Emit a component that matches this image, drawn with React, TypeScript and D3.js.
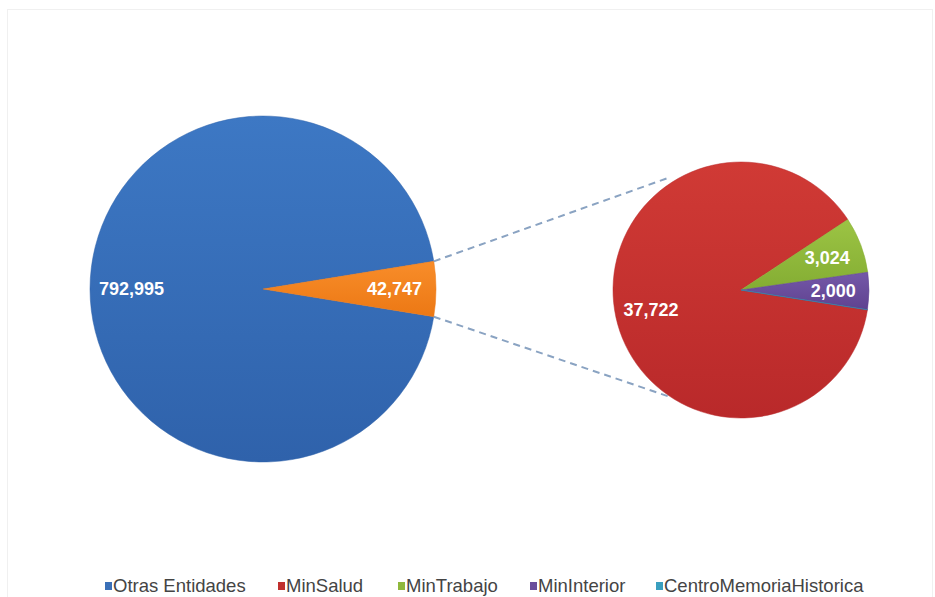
import React from "react";
import * as d3 from "d3";

const mainCategories = ["Otras Entidades", "Otros"];
const mainValues = [792995, 42747];
const subCategories = ["MinSalud", "MinTrabajo", "MinInterior", "CentroMemoriaHistorica"];
const subValues = [37722, 3024, 2000, 1];
const subLabels = ["37,722", "3,024", "2,000", ""];
const mainLabels = ["792,995", "42,747"];
const legendNames = ["Otras Entidades", "MinSalud", "MinTrabajo", "MinInterior", "CentroMemoriaHistorica"];

const mainColors = [["#3d78c4", "#2f62ab"], ["#f88d2a", "#ec7814"]];
const subColors = [["#d03a35", "#b9292a"], ["#9cc444", "#84ad33"], ["#7458a8", "#5f4290"], ["#40a8c8", "#2f8fae"]];
const legendColors = ["#3a70b8", "#c0302e", "#8fb83c", "#6a4e9c", "#3a9fbf"];

const W = 935, H = 597;
const mainC = { x: 263, y: 289 }, mainR = 173;
const subC = { x: 741, y: 290 }, subR = 128;

export default function App() {
  const mainTotal = d3.sum(mainValues);
  const otherFrac = mainValues[1] / mainTotal;
  const mainStart = Math.PI / 2 + otherFrac * Math.PI;
  const mainPie = d3.pie<number>().sort(null).startAngle(mainStart).endAngle(mainStart + 2 * Math.PI)(mainValues);

  const subTotal = d3.sum(subValues);
  const smallFrac = (subTotal - subValues[0]) / subTotal;
  const subStart = Math.PI / 2 + (smallFrac * 2 * Math.PI) * 0.21;
  const subPie = d3.pie<number>().sort(null).startAngle(subStart).endAngle(subStart + 2 * Math.PI)(subValues);

  const mainArc = d3.arc<any>().innerRadius(0).outerRadius(mainR);
  const subArc = d3.arc<any>().innerRadius(0).outerRadius(subR);
  const mainLabelArc = d3.arc<any>().innerRadius(mainR * 0.76).outerRadius(mainR * 0.76);
  const subLabelArc = d3.arc<any>().innerRadius(subR * 0.72).outerRadius(subR * 0.72);

  const o = mainPie[1];
  const p1 = [mainC.x + mainR * Math.sin(o.startAngle), mainC.y - mainR * Math.cos(o.startAngle)];
  const p2 = [mainC.x + mainR * Math.sin(o.endAngle), mainC.y - mainR * Math.cos(o.endAngle)];
  const a1 = -32 * Math.PI / 180, a2 = Math.PI + 33 * Math.PI / 180;
  const q1 = [subC.x + subR * 1.04 * Math.sin(a1), subC.y - subR * 1.04 * Math.cos(a1)];
  const q2 = [subC.x + subR * Math.sin(a2), subC.y - subR * Math.cos(a2)];

  const legendX = [105, 278, 398, 530, 656];
  const font = "'Liberation Sans', Arial, sans-serif";

  return (
    <svg width={W} height={H} style={{ position: "absolute", left: 0, top: 0, background: "#fff" }}>
      <defs>
        {mainColors.map((c, i) => (
          <linearGradient key={"mg" + i} id={"mg" + i} x1="0" y1="0" x2="0" y2="1">
            <stop offset="0" stopColor={c[0]} />
            <stop offset="1" stopColor={c[1]} />
          </linearGradient>
        ))}
        {subColors.map((c, i) => (
          <linearGradient key={"sg" + i} id={"sg" + i} x1="0" y1="0" x2="0" y2="1">
            <stop offset="0" stopColor={c[0]} />
            <stop offset="1" stopColor={c[1]} />
          </linearGradient>
        ))}
      </defs>
      <rect x={7.5} y={9.5} width={925} height={600} fill="none" stroke="#f0f0f0" />
      <g transform={`translate(${mainC.x},${mainC.y})`}>
        {mainPie.map((d, i) => (
          <path key={i} d={mainArc(d) as string} fill={`url(#mg${i})`} stroke={mainColors[i][1]} strokeWidth={0.5} />
        ))}
        {mainPie.map((d, i) => {
          const [x, y] = mainLabelArc.centroid(d);
          return (
            <text key={i} x={x} y={y} dy="0.35em" textAnchor="middle" fill="#fff" fontWeight="bold" fontSize={18} fontFamily={font}>
              {mainLabels[i]}
            </text>
          );
        })}
      </g>
      <g transform={`translate(${subC.x},${subC.y})`}>
        {subPie.map((d, i) => (
          <path key={i} d={subArc(d) as string} fill={`url(#sg${i})`} stroke={subColors[i][1]} strokeWidth={0.5} />
        ))}
        {subPie.map((d, i) => {
          const [x, y] = subLabelArc.centroid(d);
          return (
            <text key={i} x={x} y={y} dy="0.35em" textAnchor="middle" fill="#fff" fontWeight="bold" fontSize={18} fontFamily={font}>
              {subLabels[i]}
            </text>
          );
        })}
      </g>
      <line x1={p1[0]} y1={p1[1]} x2={q1[0]} y2={q1[1]} stroke="#8aa3c2" strokeWidth={2} strokeDasharray="7,5" />
      <line x1={p2[0]} y1={p2[1]} x2={q2[0]} y2={q2[1]} stroke="#8aa3c2" strokeWidth={2} strokeDasharray="7,5" />
      <g fontFamily={font} fontSize={18.5} fill="#444">
        {legendNames.map((n, i) => (
          <g key={n} transform={`translate(${legendX[i]},586)`}>
            <rect x={0} y={-4} width={7} height={8} fill={legendColors[i]} />
            <text x={8} y={0} dy="0.35em">{n}</text>
          </g>
        ))}
      </g>
    </svg>
  );
}
